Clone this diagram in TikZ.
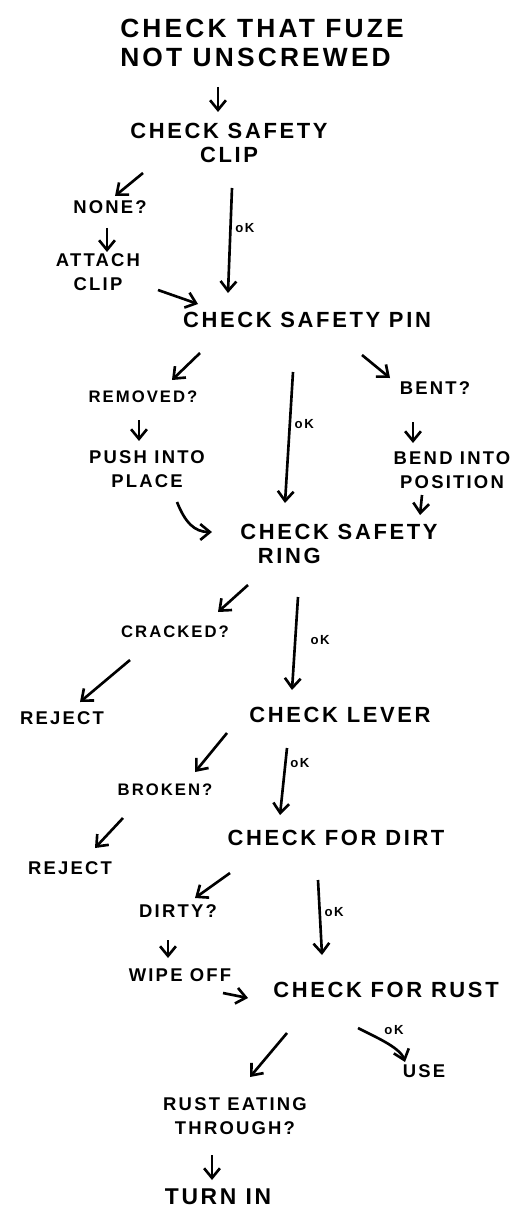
\documentclass[tikz,border=0pt]{standalone}
\usepackage{fontspec}
\setmainfont{Liberation Sans}[LetterSpace=12]
\usetikzlibrary{arrows.meta}

\begin{document}
\begin{tikzpicture}[x=0.02cm,y=-0.02cm,>={Straight Barb[length=5.5pt,width=9pt]},line width=1.5pt,
  mainstep/.style={font=\bfseries\fontsize{12.5}{14}\selectfont,inner sep=1pt,align=left},
  substep/.style={font=\bfseries\fontsize{10.5}{14}\selectfont,inner sep=1pt,align=center},
  oklabel/.style={font=\bfseries\fontsize{7.5}{8}\selectfont,inner sep=2pt}]
\useasboundingbox (0,0) rectangle (530,1209);
\node[mainstep,font=\bfseries\fontsize{15}{16.5}\selectfont] (fuze) at (262,43) {CHECK THAT FUZE\\NOT UNSCREWED};
\node[mainstep,align=center] (clip) at (229,143) {CHECK SAFETY\\CLIP};
\node[substep] (none) at (110,207) {NONE?};
\node[substep] (attach) at (98,272) {ATTACH\\CLIP};
\node[mainstep] (pin) at (307,320) {CHECK SAFETY PIN};
\node[substep,font=\bfseries\fontsize{9.5}{14}\selectfont] (removed) at (143,397) {REMOVED?};
\node[substep] (push) at (147,469) {PUSH INTO\\PLACE};
\node[substep] (bent) at (435,388) {BENT?};
\node[substep] (bend) at (452,470) {BEND INTO\\POSITION};
\node[mainstep] (ring) at (339,544) {CHECK SAFETY\\\hspace{0.8em}RING};
\node[substep,font=\bfseries\fontsize{9.5}{14}\selectfont] (cracked) at (175,632) {CRACKED?};
\node[substep] (reject1) at (62,718) {REJECT};
\node[mainstep] (lever) at (340,715) {CHECK LEVER};
\node[substep,font=\bfseries\fontsize{9.5}{14}\selectfont] (broken) at (165,790) {BROKEN?};
\node[substep] (reject2) at (70,868) {REJECT};
\node[mainstep] (dirt) at (336,838) {CHECK FOR DIRT};
\node[substep] (dirty) at (178,911) {DIRTY?};
\node[substep] (wipe) at (180,975) {WIPE OFF};
\node[mainstep] (rust) at (386,990) {CHECK FOR RUST};
\node[substep] (use) at (424,1071) {USE};
\node[substep] (eating) at (235,1116) {RUST EATING\\THROUGH?};
\node[substep,font=\bfseries\fontsize{13}{14}\selectfont] (turnin) at (218,1197) {TURN IN};

\draw[->] ([shift={(-44,44)}]fuze.center) -- ([shift={(-11,-31)}]clip.center);
\draw[->] ([shift={(-86,30)}]clip.center) -- ([shift={(5,-11)}]none.center);
\draw[->] ([shift={(-3,21)}]none.center) -- ([shift={(9,-20)}]attach.center);
\draw[->] ([shift={(60,18)}]attach.center) -- ([shift={(-109,-16)}]pin.center);
\draw[->] ([shift={(3,45)}]clip.center) -- ([shift={(-79,-27)}]pin.center) node[oklabel,right,pos=.38] {oK};
\draw[->] ([shift={(-107,33)}]pin.center) -- ([shift={(29,-17)}]removed.center);
\draw[->] ([shift={(-4,23)}]removed.center) -- ([shift={(-8,-28)}]push.center);
\draw[->] ([shift={(30,33)}]push.center) .. controls +(8,20) and +(-18,0) .. ([shift={(-127,-12)}]ring.center);
\draw[->] ([shift={(-14,52)}]pin.center) -- ([shift={(-54,-41)}]ring.center) node[oklabel,right,pos=.4] {oK};
\draw[->] ([shift={(55,35)}]pin.center) -- ([shift={(-45,-10)}]bent.center);
\draw[->] ([shift={(-22,34)}]bent.center) -- ([shift={(-39,-27)}]bend.center);
\draw[->] ([shift={(-30,25)}]bend.center) -- ([shift={(81,-29)}]ring.center);
\draw[->] ([shift={(-91,41)}]ring.center) -- ([shift={(43,-20)}]cracked.center);
\draw[->] ([shift={(-45,28)}]cracked.center) -- ([shift={(18,-16)}]reject1.center);
\draw[->] ([shift={(-41,53)}]ring.center) -- ([shift={(-48,-25)}]lever.center) node[oklabel,right=6pt,pos=.46] {oK};
\draw[->] ([shift={(-113,18)}]lever.center) -- ([shift={(30,-18)}]broken.center);
\draw[->] ([shift={(-42,28)}]broken.center) -- ([shift={(25,-20)}]reject2.center);
\draw[->] ([shift={(-53,33)}]lever.center) -- ([shift={(-56,-23)}]dirt.center) node[oklabel,right,pos=.22] {oK};
\draw[->] ([shift={(-106,35)}]dirt.center) -- ([shift={(17,-13)}]dirty.center);
\draw[->] ([shift={(-10,29)}]dirty.center) -- ([shift={(-12,-17)}]wipe.center);
\draw[->] ([shift={(43,18)}]wipe.center) -- ([shift={(-138,8)}]rust.center);
\draw[->] ([shift={(-18,42)}]dirt.center) -- ([shift={(-64,-35)}]rust.center) node[oklabel,right,pos=.43] {oK};
\draw[->] ([shift={(-99,43)}]rust.center) -- ([shift={(15,-39)}]eating.center);
\draw[->] ([shift={(-28,38)}]rust.center) .. controls +(15,8) and +(-5,-15) .. ([shift={(-19,-9)}]use.center) node[oklabel,above right,pos=.4] {oK};
\draw[->] ([shift={(-23,39)}]eating.center) -- ([shift={(-6,-17)}]turnin.center);
\end{tikzpicture}
\end{document}
